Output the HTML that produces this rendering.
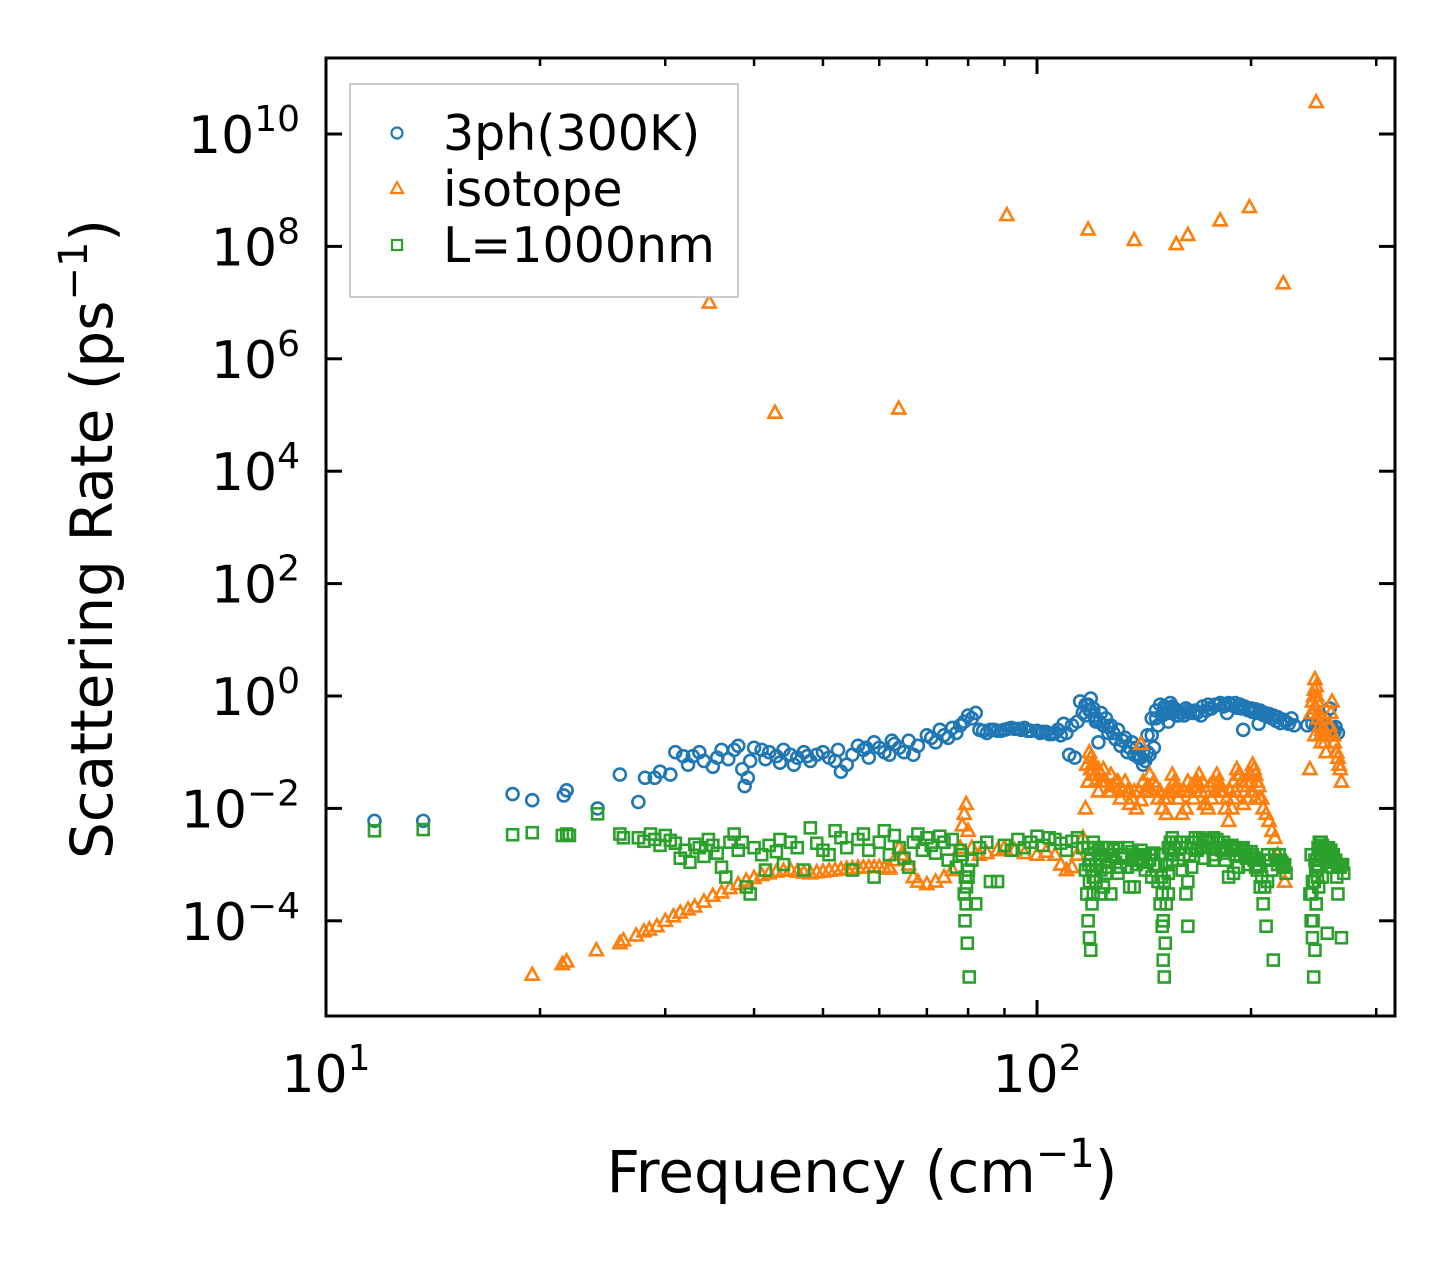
<!DOCTYPE html>
<html><head><meta charset="utf-8"><style>
html,body{margin:0;padding:0;background:#fff;}
svg{display:block;font-family:"DejaVu Sans","Liberation Sans",sans-serif;}
</style></head><body>
<svg id="chart" width="1455" height="1265" viewBox="0 0 1455 1265">
<defs><clipPath id="clip"><rect x="326" y="58" width="1069" height="958"/></clipPath></defs>
<rect x="0" y="0" width="1455" height="1265" fill="#fff"/>
<g id="marks" clip-path="url(#clip)"></g>
<g id="axes"></g>
<text x="862" y="1192" font-size="58" text-anchor="middle">Frequency (cm<tspan font-size="40" dy="-25">−1</tspan><tspan dy="25">)</tspan></text>
<text transform="translate(112,539) rotate(-90)" font-size="58" text-anchor="middle">Scattering Rate (ps<tspan font-size="40" dy="-25">−1</tspan><tspan dy="25">)</tspan></text>
<g id="legend">
<rect x="350" y="84" width="388" height="213" fill="#fff" stroke="#bbb" stroke-width="1.5"/>
<circle cx="397" cy="133" r="5.5" fill="none" stroke="#1f77b4" stroke-width="2.2"/>
<text x="443" y="150" font-size="49">3ph(300K)</text>
<path d="M397,182 L403,193 L391,193 Z" fill="none" stroke="#ff7f0e" stroke-width="2.2"/>
<text x="443" y="206" font-size="49">isotope</text>
<rect x="392" y="240" width="10" height="10" fill="none" stroke="#2ca02c" stroke-width="2.2"/>
<text x="443" y="262" font-size="49">L=1000nm</text>
</g>
</svg>
<script>
const phFreqA=[11.7,13.7,18.3,19.5,21.6,21.8,24.1,25.9,27.5,28.1,29,29.5,30.5,31,31.8,32.3,32.8,33.5,34,35,35.5,36,36.8,37.5,38,38.5,38.8,39.2,40,41,42,43,44,45,46,47,48,49,50,51,52,53,54,55,56,57,58,59,60,61,62,63,64,65,66,67,68,70,71,72,73,74,75,76,77,78,79,80,81,82,83,85,88,90,93,96,100,103,106,108,110,112,114,116,118,119,120,121,122,123,125,127,130,133,136,138,140,142,144,146,148,150,152,154,156,158,160,163,166,170,173,176,180,183,186,190,193,196,200,203,206,209,212,215,218,222,226,230,240,245,248,252,256,260,263,117,119,121,124,126,128,132,135,139,141,143,145,147,151,153,155,157,162,168,175,185,195,205,250,254,258];
const phRateA=[0.006,0.006,0.018,0.014,0.017,0.021,0.01,0.04,0.013,0.035,0.035,0.045,0.04,0.1,0.085,0.06,0.085,0.1,0.07,0.055,0.08,0.11,0.075,0.11,0.13,0.05,0.025,0.035,0.12,0.11,0.1,0.085,0.11,0.09,0.08,0.1,0.07,0.09,0.1,0.08,0.07,0.045,0.06,0.09,0.13,0.11,0.08,0.15,0.12,0.1,0.09,0.14,0.12,0.1,0.16,0.09,0.13,0.2,0.18,0.15,0.25,0.2,0.18,0.27,0.22,0.3,0.35,0.45,0.4,0.5,0.25,0.22,0.24,0.25,0.26,0.27,0.24,0.23,0.22,0.2,0.22,0.3,0.35,0.5,0.7,0.9,0.6,0.4,0.15,0.5,0.4,0.3,0.25,0.18,0.15,0.12,0.08,0.07,0.09,0.12,0.3,0.45,0.6,0.75,0.6,0.45,0.5,0.55,0.5,0.45,0.55,0.6,0.7,0.65,0.75,0.75,0.7,0.65,0.6,0.58,0.55,0.5,0.48,0.45,0.42,0.38,0.32,0.3,0.3,0.45,0.35,0.3,0.28,0.27,0.28,0.45,0.55,0.35,0.3,0.28,0.22,0.16,0.12,0.09,0.06,0.1,0.2,0.4,0.5,0.35,0.65,0.45,0.6,0.5,0.6,0.5,0.25,0.32,0.3];
const phFreqB=[115,117,118.5,120.5,122.5,124,126,129,131,134,137,139,141,143,145,147,149,151,153,155,157,159,161,164,167,171,174,178,181,184,188,191,194,198,201,205,208,211,214,217,220,224,228,244,247,250,254,258,262,265,84,86,87,89,91,92,94,95,97,98,101,102,104,105,107,109,111,113,39.5,41.5,43.5,45.5,47.5,52.5,57.5,62.5,67.5,72.5];
const phRateB=[0.4,0.6,0.8,0.7,0.55,0.45,0.35,0.3,0.22,0.17,0.13,0.1,0.09,0.08,0.1,0.2,0.4,0.55,0.7,0.65,0.5,0.5,0.55,0.5,0.45,0.5,0.55,0.65,0.7,0.7,0.75,0.72,0.68,0.62,0.6,0.56,0.52,0.5,0.46,0.43,0.4,0.36,0.33,0.35,0.4,0.32,0.3,0.28,0.27,0.26,0.23,0.22,0.24,0.25,0.25,0.24,0.26,0.27,0.26,0.25,0.24,0.24,0.22,0.23,0.21,0.21,0.25,0.32,0.09,0.08,0.07,0.075,0.065,0.06,0.085,0.11,0.12,0.16];
const isoFreqA=[34.6,42.8,63.9,90.7,118,137,157,163,181,199,222,247,140,19.5,21.5,21.8,24,25.9,26.2,27.3,28,28.5,29.2,30,30.8,31.5,32.3,33,34,35,36,37,38,39,40,41,42,43,44,45,46,48,50,52,54,56,58,60,62,63,64,65,66,67,68,70,72,74,76,78,79,79.5,80,81,83,85,88,90,93,96,100,103,106,108,110,112,114,116,117,118,119,120,121,122,123,124,125,126,128,130,132,134,136,138,140,142,144,146,148,150,152,154,156,158,160,162,164,166,168,170,172,174,176,178,180,182,184,186,188,190,192,194,196,198,200,202,204,206,208,210,212,214,216,218,221,223,243,245,246,247,248,249,250,251,252,253,255,257,259,261,263,265,267,268,260,242,246,119,120,121,123,127,131,135,143,147,153,157,167,173,181,189,195,201,203];
const isoRateA=[1e7,1.1e5,1.3e5,3.6e8,2e8,1.3e8,1.1e8,1.6e8,2.9e8,5e8,2.2e7,3.7e10,0.14,1.1e-5,1.7e-5,1.9e-5,3e-5,4e-5,4.5e-5,5.5e-5,6.5e-5,7e-5,8e-5,1e-4,1.2e-4,1.4e-4,1.6e-4,1.8e-4,2.2e-4,2.8e-4,3.2e-4,3.8e-4,4.5e-4,5.2e-4,5.8e-4,6.5e-4,7e-4,7.5e-4,7.8e-4,8e-4,7.5e-4,7e-4,7.5e-4,8e-4,8.5e-4,8.8e-4,9e-4,9e-4,8.5e-4,1.2e-3,2e-3,1.5e-3,1e-3,6e-4,5e-4,4.5e-4,5e-4,6e-4,8e-4,2e-3,8e-3,1.2e-2,4e-3,2e-3,1.5e-3,1.6e-3,1.8e-3,2e-3,1.8e-3,1.6e-3,1.5e-3,1.7e-3,1.5e-3,1e-3,8e-4,9e-4,1.5e-3,3e-3,0.01,0.03,0.08,0.05,0.03,0.02,0.04,0.05,0.03,0.02,0.025,0.03,0.02,0.02,0.015,0.01,0.014,0.02,0.04,0.03,0.015,0.01,0.008,0.02,0.03,0.015,0.008,0.01,0.02,0.015,0.03,0.02,0.012,0.01,0.015,0.02,0.03,0.02,0.01,0.006,0.01,0.02,0.04,0.03,0.02,0.015,0.03,0.05,0.03,0.015,0.01,0.008,0.006,0.004,0.003,0.0015,0.001,0.0005,0.5,1.0,2.0,1.5,0.8,0.5,0.3,0.15,0.4,0.2,0.1,0.3,0.5,0.2,0.1,0.08,0.05,0.03,0.8,0.05,0.2,0.05,0.06,0.04,0.03,0.02,0.015,0.012,0.02,0.025,0.015,0.02,0.025,0.012,0.02,0.015,0.012,0.02,0.015];
const isoFreqB=[117.5,118.5,119.5,120.5,122,124,127,129,131,133,135,137,139,141,143,145,147,149,151,153,155,157,159,161,163,165,167,169,171,173,175,177,179,181,183,185,187,189,191,193,195,197,199,201,203,205,207,244,245.5,246.5,247.5,248.5,250.5,251.5,254,256,258,262,264,266,62,64.5,78.5,47,49,51,53,55,57,59,61];
const isoRateB=[0.06,0.1,0.06,0.04,0.05,0.03,0.04,0.03,0.025,0.03,0.02,0.02,0.02,0.03,0.025,0.02,0.025,0.02,0.015,0.02,0.04,0.025,0.02,0.02,0.03,0.025,0.02,0.04,0.03,0.02,0.025,0.03,0.04,0.025,0.02,0.015,0.02,0.03,0.05,0.04,0.025,0.03,0.04,0.06,0.04,0.025,0.015,0.8,1.3,0.6,1.0,0.4,0.2,0.25,0.15,0.2,0.3,0.15,0.1,0.06,0.0009,0.0015,0.005,7.2e-4,7.3e-4,7.8e-4,8.2e-4,8.6e-4,8.9e-4,9e-4,8.8e-4];
const bFreqA=[11.7,13.7,18.3,19.5,21.5,21.8,22,24.1,25.9,26.2,27.5,28,28.6,29,29.5,30,30.5,31,31.5,32,32.5,33,33.5,34,34.5,35,35.5,36,36.5,37,37.5,38,38.5,39,39.5,40,41,41.5,42,43,43.5,44,45,46,47,48,49,50,51,52,53,54,55,56,57,58,59,60,61,62,63,64,65,66,67,68,69,70,71,72,73,74,75,76,77,78,79,79.2,79.5,79.8,80,80.3,81,82,83,85,86,88,90,92,94,96,98,100,102,104,106,108,110,112,114,116,117,117.5,118,118.5,119,119.5,120,121,122,123,124,125,126,127,128,129,130,132,134,135,136,138,140,142,144,146,148,149,150,150.5,151,151.5,152,153,154,156,158,160,162,163,164,166,168,170,172,174,176,178,180,182,184,186,188,190,192,194,196,198,200,202,204,206,208,210,212,214,215,216,218,220,222,224,242,243,244,245,246,247,248,249,250,252,254,256,258,260,262,264,265,268,270,256,118,119,120,121,122,123,124,125,150,151,152,153,154,155,243,244,246,247,248,249,250,252,127,131,137,141,145,159,165,171,177,183,189,197,203,211];
const bRateA=[0.004,0.0042,0.0034,0.0037,0.0033,0.0035,0.0033,0.008,0.0035,0.003,0.003,0.0026,0.0035,0.0028,0.0022,0.0033,0.0027,0.0024,0.0013,0.0018,0.0011,0.0023,0.002,0.0014,0.0028,0.0022,0.0016,0.0009,0.0006,0.0025,0.0035,0.0018,0.0025,0.0004,0.0003,0.002,0.0015,0.0008,0.0022,0.0017,0.0028,0.001,0.0025,0.002,0.0008,0.0045,0.0024,0.0018,0.0015,0.004,0.003,0.002,0.0008,0.0028,0.0035,0.0018,0.0006,0.0025,0.004,0.0015,0.0033,0.002,0.0013,0.0009,0.0025,0.0035,0.0018,0.003,0.0022,0.0016,0.0032,0.0025,0.0012,0.0028,0.0009,0.0018,0.0003,0.0001,0.0002,0.00004,0.0006,0.00001,0.0012,0.0002,0.002,0.0025,0.0005,0.0005,0.0022,0.0018,0.0028,0.002,0.0025,0.0032,0.0022,0.003,0.0028,0.0024,0.0018,0.0026,0.003,0.002,0.0008,0.0003,0.0001,0.00005,0.00003,0.0002,0.0006,0.001,0.0015,0.0008,0.0004,0.0012,0.0009,0.0003,0.0015,0.0011,0.0007,0.0013,0.0009,0.0004,0.0012,0.001,0.0013,0.0008,0.0015,0.001,0.0005,0.0002,0.00008,0.00002,0.00001,0.00004,0.0002,0.0007,0.0015,0.002,0.0012,0.0008,0.0003,0.00008,0.0015,0.0025,0.0018,0.002,0.0013,0.0028,0.002,0.0015,0.0025,0.0018,0.0012,0.0006,0.0022,0.0015,0.0009,0.0018,0.0014,0.001,0.0017,0.0012,0.0008,0.0004,0.0002,0.00008,0.0012,0.0008,0.00002,0.0015,0.001,0.0012,0.0009,0.0007,0.0003,0.0001,0.00005,0.00001,0.00003,0.0002,0.0006,0.001,0.0016,0.0022,0.0018,0.0012,0.0015,0.0009,0.0011,0.0006,0.0003,0.00005,0.0007,0.00006,0.002,0.0012,0.0025,0.0005,0.0018,0.0003,0.002,0.0007,0.0015,0.0005,0.001,0.0003,0.0018,0.0012,0.0015,0.0005,0.0012,0.0002,0.0009,0.0004,0.0014,0.0006,0.0015,0.0009,0.0004,0.0011,0.0006,0.0025,0.0009,0.0022,0.0012,0.0016,0.0007,0.0013,0.0009,0.0005];
const bFreqB=[118,118.2,118.5,119,119.5,120,120.5,121,122,123,124,126,128,130,132,134,136,138,140,142,144,146,148,149.5,150,150.5,151,152,153,154,155,157,159,161,163,165,167,169,171,173,175,177,179,181,183,185,187,189,191,193,195,197,199,201,203,205,207,209,211,213,217,219,221,223,243.5,244.5,245.5,246.5,247.5,248.5,249.5,251,253,255,257,259,261,263,265,267,269,78.5,79.3,79.6,80.1];
const bRateB=[0.002,0.001,0.0005,0.0015,0.0008,0.0003,0.002,0.0005,0.002,0.0015,0.002,0.002,0.0018,0.002,0.0015,0.002,0.0017,0.0015,0.0018,0.0015,0.0012,0.0016,0.001,0.0006,0.0003,0.0001,0.0005,0.001,0.002,0.0025,0.003,0.0025,0.002,0.0015,0.0005,0.002,0.003,0.003,0.0028,0.002,0.0025,0.003,0.0028,0.002,0.0025,0.002,0.0018,0.002,0.0018,0.0015,0.002,0.0017,0.0015,0.0015,0.0013,0.001,0.0006,0.0004,0.0015,0.0012,0.0012,0.0015,0.0011,0.001,0.0003,0.0001,0.0005,0.0008,0.0012,0.002,0.0025,0.0025,0.002,0.0017,0.002,0.0018,0.0015,0.0012,0.001,0.0009,0.001,0.0015,0.0006,0.0004,0.0008];
const phFreq=phFreqA.concat(phFreqB), phRate=phRateA.concat(phRateB);
const isoFreq=isoFreqA.concat(isoFreqB), isoRate=isoRateA.concat(isoRateB);
const bFreq=bFreqA.concat(bFreqB), bRate=bRateA.concat(bRateB);

const X0=326,X1=1395,Y0=58,Y1=1016;
function xs(f){return 326+711*(Math.log10(f)-1);}
function ys(r){return 696-56.2*Math.log10(r);}
const NS='http://www.w3.org/2000/svg';
const marks=document.getElementById('marks');
const axes=document.getElementById('axes');
function mk(tag,attrs,parent){const e=document.createElementNS(NS,tag);for(const k in attrs)e.setAttribute(k,attrs[k]);parent.appendChild(e);return e;}

const gPh=mk('g',{},marks);


phFreq.forEach((f,i)=>{const c=mk('circle',{cx:xs(f),cy:ys(phRate[i]),r:6,fill:'none',stroke:'#1f77b4','stroke-width':2.6},gPh);

});
const gIso=mk('g',{},marks);


isoFreq.forEach((f,i)=>{const x=xs(f),y=ys(isoRate[i]);const p=mk('path',{d:`M${x},${y-7} L${x+6.5},${y+5} L${x-6.5},${y+5} Z`,fill:'none',stroke:'#ff7f0e','stroke-width':2.6},gIso);

});
const gB=mk('g',{},marks);


bFreq.forEach((f,i)=>{const x=xs(f),y=ys(bRate[i]);const s=mk('rect',{x:x-5.5,y:y-5.5,width:11,height:11,fill:'none',stroke:'#2ca02c','stroke-width':2.6},gB);

});

const fr=mk('rect',{x:X0,y:Y0,width:X1-X0,height:Y1-Y0,fill:'none',stroke:'#000','stroke-width':3},axes);


const xMajor=[10,100];
const xMinor=[20,30,40,50,60,70,80,90,200,300];
const xLabelExp=['1','2'];
xMajor.forEach((v,i)=>{const x=xs(v);
mk('line',{x1:x,x2:x,y1:Y1,y2:Y1-16,stroke:'#000','stroke-width':3},axes);
mk('line',{x1:x,x2:x,y1:Y0,y2:Y0+16,stroke:'#000','stroke-width':3},axes);
const t=mk('text',{x:x,y:1092,'font-size':52,'text-anchor':'middle'},axes);


t.innerHTML='10<tspan font-size="36" dy="-22">'+xLabelExp[i]+'</tspan>';});
xMinor.forEach(v=>{const x=xs(v);
mk('line',{x1:x,x2:x,y1:Y1,y2:Y1-8,stroke:'#000','stroke-width':2.5},axes);
mk('line',{x1:x,x2:x,y1:Y0,y2:Y0+8,stroke:'#000','stroke-width':2.5},axes);});
const yTicks=[1e10,1e8,1e6,1e4,1e2,1,1e-2,1e-4];
const yLabelExp=['10','8','6','4','2','0','−2','−4'];
yTicks.forEach((v,i)=>{const y=ys(v);
mk('line',{x1:X0,x2:X0+16,y1:y,y2:y,stroke:'#000','stroke-width':3},axes);
mk('line',{x1:X1,x2:X1-16,y1:y,y2:y,stroke:'#000','stroke-width':3},axes);
const t=mk('text',{x:300,y:y+19,'font-size':52,'text-anchor':'end'},axes);


t.innerHTML='10<tspan font-size="36" dy="-22">'+yLabelExp[i]+'</tspan>';});
</script>
</body></html>
